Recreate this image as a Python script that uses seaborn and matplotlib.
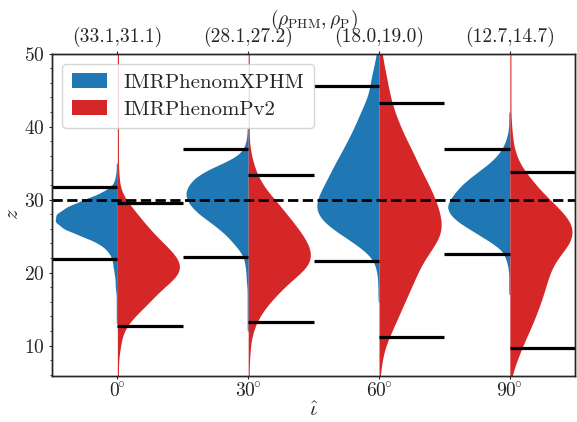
import numpy as np
import pandas as pd
import matplotlib
matplotlib.use("Agg")
import matplotlib.pyplot as plt
import seaborn as sns

# Inclination angles (categories) and the SNR pairs shown on the top axis.
inclinations = [0, 30, 60, 90]
snr_labels = ["(33.1,31.1)", "(28.1,27.2)", "(18.0,19.0)", "(12.7,14.7)"]
approximants = ["IMRPhenomXPHM", "IMRPhenomPv2"]
colors = ["#1f77b4", "#d62728"]

# Redshift bins (z = 5 ... 52) and sample counts per bin.
z_bins = np.arange(5, 53)

xphm_0 = [0, 0, 0, 0, 0, 0, 0, 0, 1, 1, 1, 1, 1, 2, 2, 3, 4, 5, 9, 17, 33, 50, 58, 57,
          47, 31, 14, 4, 2, 1, 1, 0, 0, 0, 0, 0, 0, 0, 0, 0, 0, 0, 0, 0, 0, 0, 0, 0]
pv2_0 = [1, 1, 1, 1, 2, 3, 4, 6, 10, 16, 23, 30, 36, 43, 52, 58, 59, 56, 50, 43, 36, 30, 24, 19,
         13, 8, 4, 2, 2, 1, 1, 1, 1, 1, 1, 1, 1, 1, 1, 1, 1, 1, 1, 1, 1, 1, 1, 0]
xphm_30 = [0, 0, 0, 0, 0, 0, 0, 1, 1, 1, 1, 1, 1, 1, 2, 2, 3, 4, 8, 14, 20, 28, 37, 47,
           54, 59, 60, 57, 51, 40, 24, 10, 4, 2, 1, 1, 0, 0, 0, 0, 0, 0, 0, 0, 0, 0, 0, 0]
pv2_30 = [1, 1, 1, 1, 2, 2, 3, 5, 7, 11, 15, 21, 27, 34, 41, 50, 57, 59, 59, 56, 52, 47, 42, 36,
          31, 25, 19, 14, 10, 7, 5, 3, 2, 1, 1, 1, 1, 1, 1, 1, 1, 1, 1, 1, 1, 1, 1, 0]
xphm_60 = [0, 0, 0, 0, 0, 0, 0, 0, 0, 0, 0, 1, 1, 1, 1, 2, 3, 6, 13, 23, 33, 44, 52, 58,
           59, 58, 55, 51, 48, 44, 41, 37, 33, 30, 26, 23, 20, 17, 14, 11, 9, 8, 7, 5, 4, 2, 2, 1]
pv2_60 = [1, 1, 2, 3, 4, 6, 9, 12, 15, 18, 21, 24, 27, 30, 33, 36, 39, 43, 48, 53, 57, 59, 58, 57,
          55, 52, 50, 46, 43, 39, 36, 33, 30, 26, 23, 20, 17, 15, 12, 11, 9, 8, 7, 5, 4, 3, 2, 1]
xphm_90 = [0, 0, 0, 0, 0, 0, 0, 0, 0, 0, 0, 0, 1, 1, 1, 1, 2, 4, 7, 16, 27, 38, 49, 56,
           59, 56, 51, 45, 37, 28, 19, 12, 7, 4, 2, 1, 1, 1, 0, 0, 0, 0, 0, 0, 0, 0, 0, 0]
pv2_90 = [1, 2, 4, 7, 9, 12, 15, 18, 21, 24, 26, 29, 31, 33, 35, 37, 40, 44, 50, 56, 58, 59, 56, 51,
          44, 37, 30, 24, 19, 13, 9, 6, 4, 3, 2, 2, 1, 1, 1, 1, 1, 1, 1, 1, 1, 1, 1, 0]

# 90% credible bounds (lower, upper) for each approximant.
xphm_lo = [21.8, 22.1, 21.6, 22.6]
xphm_hi = [31.7, 37.0, 45.5, 37.0]
pv2_lo = [12.7, 13.2, 11.2, 9.7]
pv2_hi = [29.5, 33.4, 43.3, 33.8]

z_true = 30

counts = {
    ("IMRPhenomXPHM", 0): xphm_0, ("IMRPhenomPv2", 0): pv2_0,
    ("IMRPhenomXPHM", 30): xphm_30, ("IMRPhenomPv2", 30): pv2_30,
    ("IMRPhenomXPHM", 60): xphm_60, ("IMRPhenomPv2", 60): pv2_60,
    ("IMRPhenomXPHM", 90): xphm_90, ("IMRPhenomPv2", 90): pv2_90,
}
frames = []
for (approx, inc), c in counts.items():
    samples = np.repeat(z_bins, c)
    frames.append(pd.DataFrame({"inc": inc, "approx": approx, "z": samples}))
df = pd.concat(frames, ignore_index=True)

sns.set_style("ticks")
plt.rcParams["font.family"] = ["cmr10", "DejaVu Serif"]
plt.rcParams["mathtext.fontset"] = "cm"
plt.rcParams["axes.formatter.use_mathtext"] = True
plt.rcParams["xtick.direction"] = "out"
plt.rcParams["ytick.direction"] = "out"
plt.rcParams["xtick.major.size"] = 2.5
plt.rcParams["ytick.major.size"] = 2.5
plt.rcParams["ytick.minor.size"] = 1.5
plt.rcParams["xtick.major.pad"] = 2.5
plt.rcParams["ytick.major.pad"] = 2.5
plt.rcParams["axes.linewidth"] = 1.0

fig, ax = plt.subplots(figsize=(5.77, 4.22), dpi=100)
fig.subplots_adjust(left=0.090, right=0.997, top=0.873, bottom=0.110)

sns.violinplot(data=df, x="inc", y="z", hue="approx", order=inclinations,
               hue_order=approximants, palette=colors, saturation=1,
               split=True, inner=None, cut=0, density_norm="width",
               common_norm=False, bw_adjust=0.6, width=0.95, linewidth=0, ax=ax)

# 90% bounds: left half for XPHM, right half for Pv2
for i in range(len(inclinations)):
    for lo, hi, side in [(xphm_lo, xphm_hi, -1), (pv2_lo, pv2_hi, 1)]:
        x0, x1 = sorted([i, i + 0.5 * side])
        ax.hlines([lo[i], hi[i]], x0, x1, color="black", lw=2.3, zorder=5)

ax.axhline(z_true, color="black", ls="--", lw=2, zorder=6)

ax.set_xlim(-0.5, 3.5)
ax.set_ylim(5.9, 50)
ax.set_xticks(range(len(inclinations)))
ax.set_xticklabels([rf"${i}^{{\!\!\circ}}$" for i in inclinations])
ax.set_yticks([10, 20, 30, 40, 50])
ax.yaxis.set_minor_locator(matplotlib.ticker.MultipleLocator(2))
ax.tick_params(labelsize=14)
ax.set_xlabel(r"$\hat{\iota}$", fontsize=15, labelpad=0)
ax.set_ylabel(r"$z$", fontsize=15, labelpad=2)

top = ax.twiny()
top.set_xlim(ax.get_xlim())
top.set_xticks(range(len(inclinations)))
top.set_xticklabels(snr_labels)
top.tick_params(labelsize=14, pad=2)
top.set_xlabel(r"$(\rho_{\rm PHM},\rho_{\rm P})$", fontsize=14, labelpad=2)

sns.move_legend(ax, "upper left", title=None, fontsize=15, frameon=True,
                handlelength=1.7, borderpad=0.45, labelspacing=0.4)

fig.savefig("out.png", dpi=100)
